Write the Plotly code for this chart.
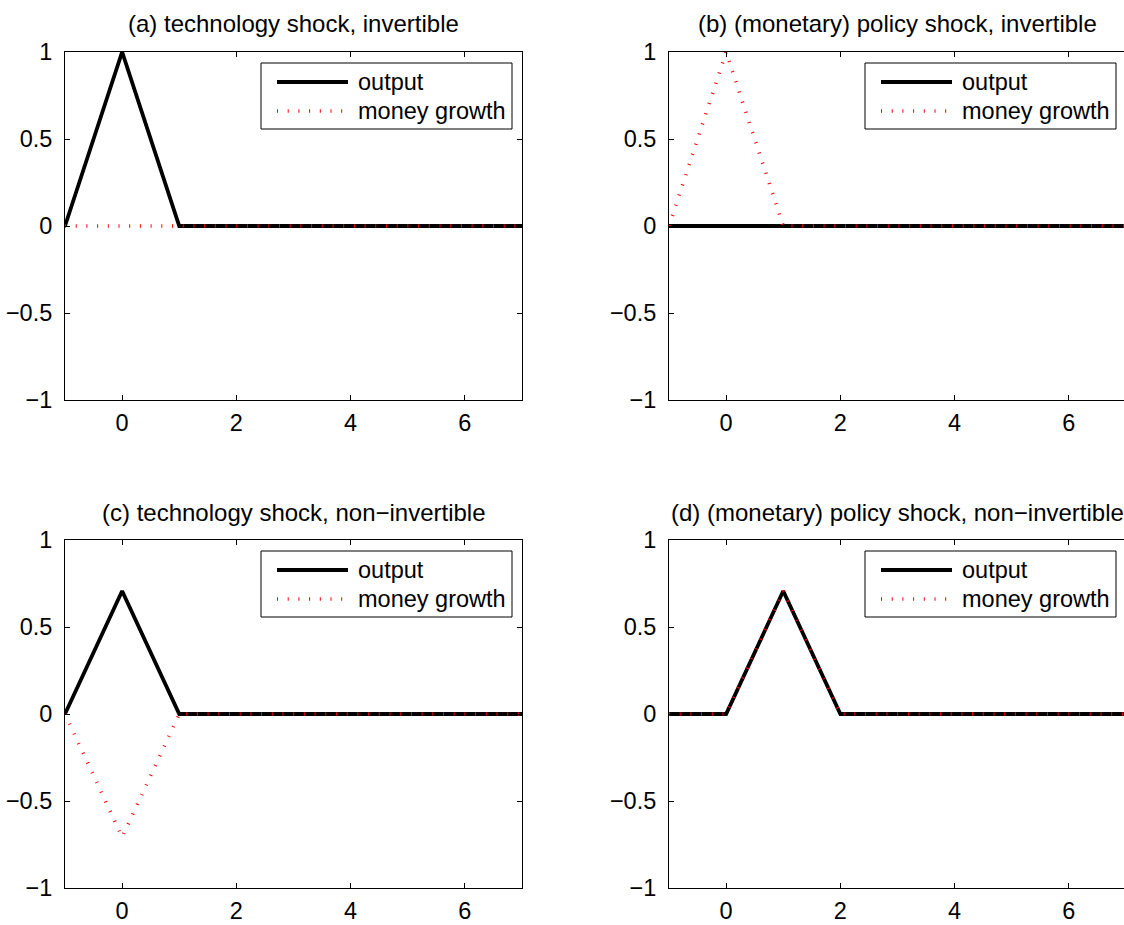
import plotly.graph_objects as go

# ---------------- data ----------------
periods = [-1, 0, 1, 2, 3, 4, 5, 6, 7]

output_a = [0, 1, 0, 0, 0, 0, 0, 0, 0]
money_a = [0, 0, 0, 0, 0, 0, 0, 0, 0]

output_b = [0, 0, 0, 0, 0, 0, 0, 0, 0]
money_b = [0, 1, 0, 0, 0, 0, 0, 0, 0]

output_c = [0, 0.707, 0, 0, 0, 0, 0, 0, 0]
money_c = [0, -0.707, 0, 0, 0, 0, 0, 0, 0]

output_d = [0, 0, 0.707, 0, 0, 0, 0, 0, 0]
money_d = [0, 0, 0.707, 0, 0, 0, 0, 0, 0]

titles = [
    "(a) technology shock, invertible",
    "(b) (monetary) policy shock, invertible",
    "(c) technology shock, non\u2212invertible",
    "(d) (monetary) policy shock, non\u2212invertible",
]
series_names = ["output", "money growth"]
x_tickvals = [0, 2, 4, 6]
y_tickvals = [-1, -0.5, 0, 0.5, 1]

# ---------------- layout geometry (pixels) ----------------
W, H = 1124, 925
FONT = "Liberation Sans, Arial, Helvetica, sans-serif"
FS = 23.5
FS_TITLE = 24
# axis boxes: (left, right, top, bottom) in pixels
boxes = [
    (65, 522, 52, 400),
    (669, 1126, 52, 400),
    (65, 522, 540, 888),
    (669, 1126, 540, 888),
]
PX_PER_UNIT = (522 - 65) / 8.0

panels = [
    (output_a, money_a),
    (output_b, money_b),
    (output_c, money_c),
    (output_d, money_d),
]

RED_DOT = "1px,9.7px"

fig = go.Figure()
layout = dict(
    width=W, height=H, autosize=False,
    margin=dict(l=0, r=0, t=0, b=0, pad=0, autoexpand=False),
    paper_bgcolor="white", plot_bgcolor="white",
    showlegend=False,
    font=dict(family=FONT, size=FS, color="black"),
)

shapes = []
annotations = []


def px2fx(px):
    return px / W


def px2fy(py):
    return 1 - py / H


extra_axis = 5
for i, ((out, mon), (l, r, t, b), title) in enumerate(zip(panels, boxes, titles)):
    k = "" if i == 0 else str(i + 1)
    xa, ya = "x" + k, "y" + k
    clipped = r > W
    dom_r = min(r, W)
    xmax = -1 + (dom_r - l) / PX_PER_UNIT
    fig.add_trace(go.Scatter(
        x=periods, y=out, mode="lines", name=series_names[0],
        line=dict(color="black", width=3.8),
        xaxis=xa, yaxis=ya, hoverinfo="skip"))
    fig.add_trace(go.Scatter(
        x=periods, y=mon, mode="lines", name=series_names[1],
        line=dict(color="#ff0000", width=3.5, dash=RED_DOT),
        xaxis=xa, yaxis=ya, hoverinfo="skip"))

    common = dict(
        showline=True, linecolor="black", linewidth=1,
        ticks="inside", ticklen=5, tickwidth=1, tickcolor="black",
        showgrid=False, zeroline=False, fixedrange=True, automargin=False,
        tickfont=dict(family=FONT, size=FS, color="black"),
    )
    layout["xaxis" + k] = dict(
        common, mirror="ticks", domain=[px2fx(l), px2fx(dom_r)], anchor=ya,
        range=[-1, xmax], tickvals=x_tickvals, ticklabelstandoff=2)
    layout["yaxis" + k] = dict(
        common, mirror=(False if clipped else "ticks"),
        domain=[px2fy(b), px2fy(t)], anchor=xa,
        range=[-1, 1], tickvals=y_tickvals, ticklabelstandoff=7)
    if clipped:
        # the right-hand box edge lies just beyond the figure; only the
        # stubs of its inward ticks are visible
        ek = str(extra_axis)
        extra_axis += 1
        layout["yaxis" + ek] = dict(
            overlaying=ya, side="right", anchor=xa, range=[-1, 1],
            tickvals=y_tickvals, showticklabels=False, showline=False,
            ticks="inside", ticklen=3, tickwidth=1, tickcolor="black",
            showgrid=False, zeroline=False, fixedrange=True, automargin=False)

    # title
    annotations.append(dict(
        text=title, xref="paper", yref="paper",
        x=px2fx((l + r) / 2), y=px2fy(t - 28),
        xanchor="center", yanchor="middle", showarrow=False,
        font=dict(family=FONT, size=FS_TITLE, color="black")))

    # legend box (drawn like the MATLAB legend)
    bx1 = r - 10
    bx0 = bx1 - 251
    by0 = t + 11
    by1 = by0 + 66
    shapes.append(dict(
        type="rect", xref="paper", yref="paper",
        x0=px2fx(bx0), x1=px2fx(bx1), y0=px2fy(by1), y1=px2fy(by0),
        line=dict(color="black", width=1), fillcolor="white", layer="above"))
    rows = [(by0 + 19, "black", 3.8, "solid", series_names[0]),
            (by0 + 48, "#ff0000", 3.5, RED_DOT, series_names[1])]
    for ry, col, wdt, dsh, name in rows:
        shapes.append(dict(
            type="line", xref="paper", yref="paper",
            x0=px2fx(bx0 + 16), x1=px2fx(bx0 + 87),
            y0=px2fy(ry), y1=px2fy(ry),
            line=dict(color=col, width=wdt, dash=dsh), layer="above"))
        annotations.append(dict(
            text=name, xref="paper", yref="paper",
            x=px2fx(bx0 + 95), y=px2fy(ry),
            xanchor="left", yanchor="middle", showarrow=False,
            font=dict(family=FONT, size=FS, color="black")))

layout["shapes"] = shapes
layout["annotations"] = annotations
fig.update_layout(**layout)
fig.write_html("out.html")
